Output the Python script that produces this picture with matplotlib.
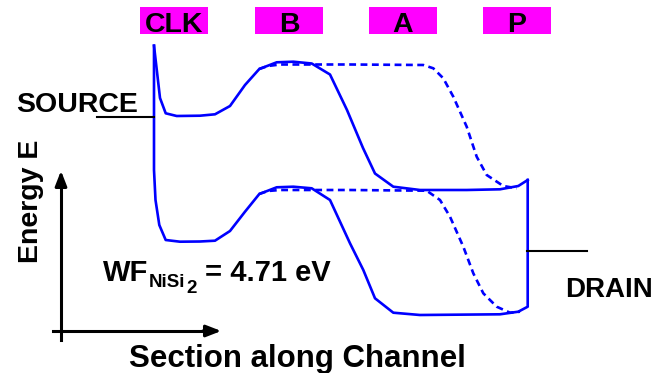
# Band diagram along the channel of a reconfigurable NiSi2 device:
# solid = gate B biased, dashed = gate A biased.
import matplotlib
matplotlib.use('Agg')
import matplotlib.pyplot as plt
from matplotlib.patches import Rectangle

plt.rcParams['font.family'] = ['Liberation Sans', 'DejaVu Sans']
plt.rcParams['font.weight'] = 'bold'

# canvas size (px), y grows downward
width, height = 672, 373

# gate labels along the top
gate_names = ['CLK', 'B', 'A', 'P']
gate_left  = [140, 255, 369, 483]

# conduction band, solid
cb_x = [154, 160, 165.7, 176.7, 200, 215, 230, 245, 259.3, 276.7, 293.3, 311.7,
        330, 347, 363, 375, 393.3, 420, 466.7, 500, 518.3, 527.7]
cb_y = [45.7, 98, 113.3, 116, 115.7, 114.3, 106, 85, 69, 62.3, 61.7, 63.5,
        74.5, 110, 148, 173.5, 186.7, 190, 190, 189.3, 186, 180]

# conduction band, dashed
cb2_x = [259, 268, 280, 300, 350, 423.3, 433.3, 443.3, 453.3, 466.7, 476.7,
         486.7, 503.3, 516.7]
cb2_y = [69, 66, 64.5, 64.5, 64.5, 65, 68.3, 78.3, 96.7, 126.7, 156.7,
         175, 186, 188.3]

# valence band, solid (includes both contact edges)
vb_x = [154, 154, 155.5, 159.3, 165.7, 180, 200, 215, 230, 245, 259.3, 276.7,
        293.3, 311.7, 330, 350, 363.3, 375, 393.3, 420, 500, 518.3, 527.7, 527.7]
vb_y = [45.7, 170, 200, 225, 240, 241.7, 241.5, 240.7, 231, 211.7, 194, 187.3,
        186.7, 188.3, 200, 243.3, 270, 298.3, 312.7, 315, 314.3, 311.7, 306.7, 180]

# valence band, dashed
vb2_x = [259, 268, 280, 300, 350, 426.7, 440, 450, 463.3, 473.3, 483.3,
         496.7, 510, 520]
vb2_y = [194, 191, 190, 190, 190, 190.7, 200, 216.7, 246.7, 273.3, 293.3,
         306.7, 312.7, 311.7]

# fermi levels of the contacts
source_x, source_y = [97, 154], 117
drain_x,  drain_y  = [527, 587], 251

blue = '#0000ff'

fig = plt.figure(figsize=(width/100, height/100), dpi=100)
ax = fig.add_axes([0, 0, 1, 1])
ax.set_xlim(0, width)
ax.set_ylim(height, 0)
ax.axis('off')

# gate boxes
for name, left in zip(gate_names, gate_left):
    ax.add_patch(Rectangle((left, 7), 68, 27, color='#ff00ff', lw=0))
    ax.text(left + 34, 31.5, name, ha='center', va='baseline', fontsize=20.5)

# bands
ax.plot(cb_x, cb_y, color=blue, lw=1.9, solid_joinstyle='round')
ax.plot(vb_x, vb_y, color=blue, lw=1.9, solid_joinstyle='round')
ax.plot(cb2_x, cb2_y, color=blue, lw=1.9, dashes=(2.6, 1.7))
ax.plot(vb2_x, vb2_y, color=blue, lw=1.9, dashes=(2.6, 1.7))

# contacts
ax.plot(source_x, [source_y]*2, color='black', lw=1.5)
ax.plot(drain_x, [drain_y]*2, color='black', lw=1.5)
ax.text(16, 112, 'SOURCE', ha='left', va='baseline', fontsize=20.5)
ax.text(565, 297, 'DRAIN', ha='left', va='baseline', fontsize=20)

# axis arrows
ax.plot([61, 61], [182, 340], color='black', lw=2.2)
ax.plot([53, 212], [331, 331], color='black', lw=2.2)
ax.annotate('', xy=(61, 168), xytext=(61, 190),
            arrowprops=dict(arrowstyle='-|>,head_length=0.9,head_width=0.35',
                            color='black', lw=2.2))
ax.annotate('', xy=(224, 331), xytext=(200, 331),
            arrowprops=dict(arrowstyle='-|>,head_length=0.9,head_width=0.35',
                            color='black', lw=2.2))
ax.text(38, 201, 'Energy E', rotation=90, ha='center', va='baseline',
        fontsize=20.5, rotation_mode='anchor')
ax.text(297, 367, 'Section along Channel', ha='center', va='baseline',
        fontsize=22.5)

# work function note
ax.text(103, 281, 'WF', ha='left', va='baseline', fontsize=21)
ax.text(149, 287, 'NiSi', ha='left', va='baseline', fontsize=13.5)
ax.text(186, 293, '2', ha='left', va='baseline', fontsize=13.5)
ax.text(205, 281, '= 4.71 eV', ha='left', va='baseline', fontsize=21)

fig.savefig('out.png', dpi=100)
